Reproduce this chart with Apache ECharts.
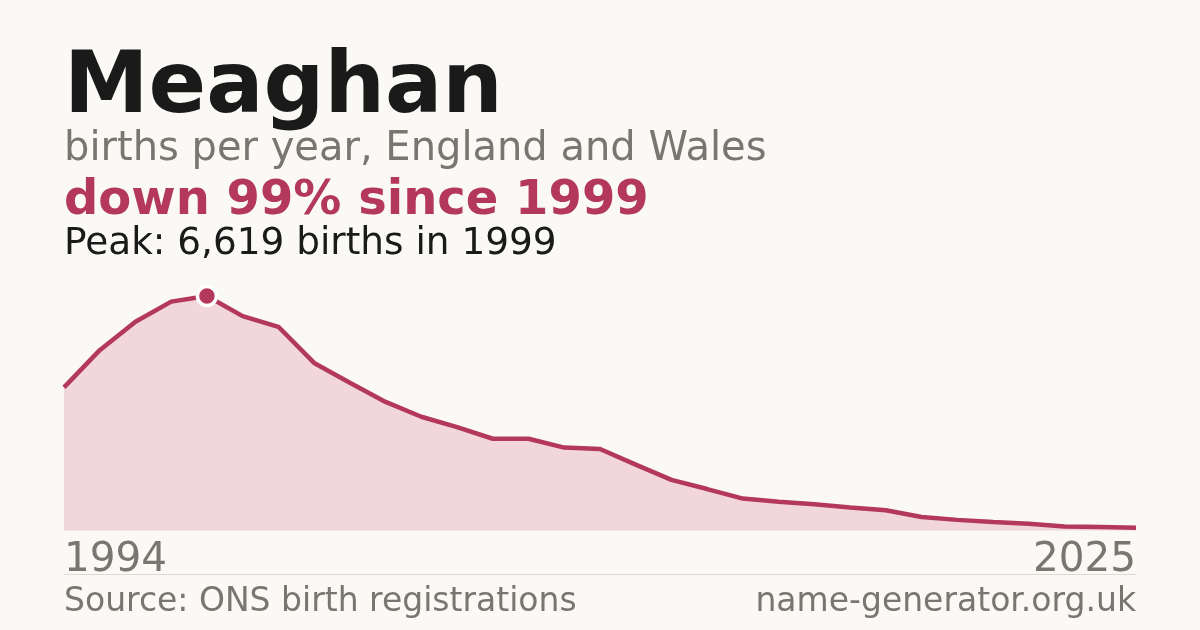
<!DOCTYPE html>
<html>
<head>
<meta charset="utf-8">
<script src="https://cdn.jsdelivr.net/npm/echarts@6/dist/echarts.min.js"></script>
<style>
  html, body { margin: 0; padding: 0; background: #faf9f5; }
  #chart { width: 1200px; height: 630px; }
</style>
</head>
<body>
<div id="chart"></div>
<script>
// births per year
const years = [
  "1995", "1996", "1997", "1998", "1999", "2000", "2001", "2002", "2003", "2004",
  "2005", "2006", "2007", "2008", "2009", "2010", "2011", "2012", "2013", "2014",
  "2015", "2016", "2017", "2018", "2019", "2020", "2021", "2022", "2023", "2024", "2025"
];
const births = [
  4040, 5090, 5890, 6460, 6619, 6050, 5750, 4730, 4170, 3630,
  3210, 2920, 2590, 2590, 2340, 2300, 1860, 1430, 1170, 900,
  810, 740, 650, 570, 380, 300, 240, 190, 110, 100, 80
];
const endLabels = ["1994", "2025"];

const red = "#b3385a";
const grey = "#7a756e";
const font = "DejaVu Sans";

const chart = echarts.init(document.getElementById("chart"));
chart.setOption({
  backgroundColor: "#faf9f5",
  animation: false,
  title: [
    {
      text: "Meaghan",
      left: 64, top: 47, padding: 0,
      textStyle: { fontFamily: font, fontSize: 85, fontWeight: "bold", color: "#1a1a1a" }
    },
    {
      text: "births per year, England and Wales",
      left: 64, top: 130, padding: 0,
      textStyle: { fontFamily: font, fontSize: 40, fontWeight: "normal", color: grey }
    },
    {
      text: "down 99% since 1999",
      left: 64, top: 178, padding: 0,
      textStyle: { fontFamily: font, fontSize: 48, fontWeight: "bold", color: red }
    },
    {
      text: "Peak: 6,619 births in 1999",
      left: 64, top: 226, padding: 0,
      textStyle: { fontFamily: font, fontSize: 37.4, fontWeight: "normal", color: "#1a1a1a" }
    },
    {
      text: "Source: ONS birth registrations",
      left: 64, top: 586, padding: 0,
      textStyle: { fontFamily: font, fontSize: 33, fontWeight: "normal", color: grey }
    },
    {
      text: "name-generator.org.uk",
      right: 64, top: 586, padding: 0,
      textStyle: { fontFamily: font, fontSize: 33, fontWeight: "normal", color: grey }
    }
  ],
  graphic: [
    {
      type: "line",
      shape: { x1: 64, y1: 574.5, x2: 1136, y2: 574.5 },
      style: { stroke: "#dcd9d2", lineWidth: 1 }
    }
  ],
  grid: { left: 64, right: 64, top: 296, bottom: 99.5 },
  xAxis: {
    type: "category",
    data: years,
    boundaryGap: false,
    axisLine: { show: false },
    axisTick: { show: false },
    splitLine: { show: false },
    axisLabel: {
      interval: 0,
      margin: 9,
      verticalAlign: "top",
      fontFamily: font,
      fontSize: 40.5,
      color: grey,
      alignMinLabel: "left",
      alignMaxLabel: "right",
      formatter: function (v, i) {
        if (i === 0) return endLabels[0];
        if (i === years.length - 1) return endLabels[1];
        return "";
      }
    }
  },
  yAxis: {
    type: "value",
    min: 0,
    max: "dataMax",
    show: false
  },
  series: [
    {
      type: "line",
      data: births,
      clip: false,
      symbol: "none",
      lineStyle: { color: red, width: 4.5 },
      areaStyle: { color: "#f1d6dc", opacity: 1 },
      markPoint: {
        symbol: "circle",
        symbolSize: 19,
        label: { show: false },
        itemStyle: { color: red, borderColor: "#ffffff", borderWidth: 3.5 },
        data: [{ type: "max" }]
      }
    }
  ]
});
</script>
</body>
</html>
